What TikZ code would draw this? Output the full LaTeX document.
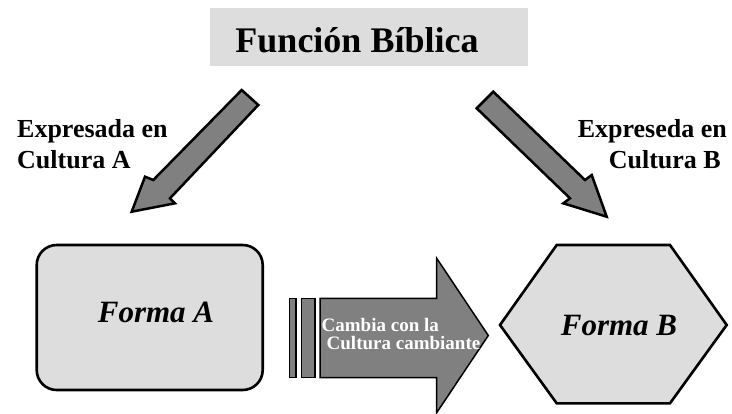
\documentclass[tikz,border=0pt]{standalone}
\usepackage{fontspec}
\setmainfont{Liberation Serif}
\usetikzlibrary{shapes.geometric}
\definecolor{lightfill}{HTML}{DDDDDD}
\definecolor{arrowfill}{HTML}{808080}
\tikzset{
  fatarrow/.style={fill=arrowfill,draw=black,line width=2.5pt,line join=miter},
  lbl/.style={inner sep=0pt,font=\fontsize{26}{30}\selectfont\bfseries},
  formtext/.style={inner sep=0pt,font=\fontsize{31}{36}\selectfont\bfseries\itshape},
  midtext/.style={inner sep=0pt,text=white,font=\fontsize{19}{19}\selectfont\bfseries},
}
\begin{document}
\begin{tikzpicture}[x=1pt,y=-1pt]
\useasboundingbox (0,0) rectangle (732,413);
% title
\fill[lightfill] (210,8) rectangle (528,66);
\node[inner sep=0pt,anchor=base,font=\fontsize{36}{40}\selectfont\bfseries] (title) at (357,52) {Función Bíblica};
% left arrow
\draw[fatarrow] (241.7,90) -- (258.3,105) -- (170,198.3) -- (175,203.3) -- (131.7,211.7) -- (145,176.7) -- (153.3,180) -- cycle;
% right arrow
\draw[fatarrow] (476.7,108.3) -- (493.3,91.7) -- (585,180) -- (591.7,175) -- (606.7,216.7) -- (563.3,203.3) -- (570,198.3) -- cycle;
% labels
\node[lbl,anchor=base west] (la1) at (17,137) {Expresada en};
\node[lbl,anchor=base west] (la2) at (17,168) {Cultura A};
\node[lbl,anchor=base east] (lb1) at (727,137) {Expreseda en};
\node[lbl,anchor=base east] (lb2) at (721,168) {Cultura B};
% Forma A
\draw[fill=lightfill,line width=2.6pt,rounded corners=20pt] (36.7,245) rectangle (262.7,390);
\node[formtext,anchor=base] (fa) at (156,322) {Forma A};
% Forma B hexagon
\draw[fill=lightfill,line width=2.6pt,line join=miter] (500,325) -- (556.7,245) -- (670,245) -- (726.7,325) -- (670,403.3) -- (556.7,403.3) -- cycle;
\node[formtext,anchor=base] (fb) at (619,335) {Forma B};
% middle arrow
\draw[fill=arrowfill,line width=1.5pt] (289.3,298.3) rectangle (296,377.7);
\draw[fill=arrowfill,line width=1.5pt] (301.7,298.3) rectangle (315,377.7);
\draw[fill=arrowfill,line width=1.5pt,line join=miter] (320,298.3) -- (436.7,298.3) -- (436.7,258.3) -- (488.3,335.5) -- (436.7,412.7) -- (436.7,377.7) -- (320,377.7) -- cycle;
\node[midtext,anchor=base west] (m1) at (321.5,331.5) {Cambia con la};
\node[midtext,anchor=base west] (m2) at (326.5,349) {Cultura cambiante};
\end{tikzpicture}
\end{document}
